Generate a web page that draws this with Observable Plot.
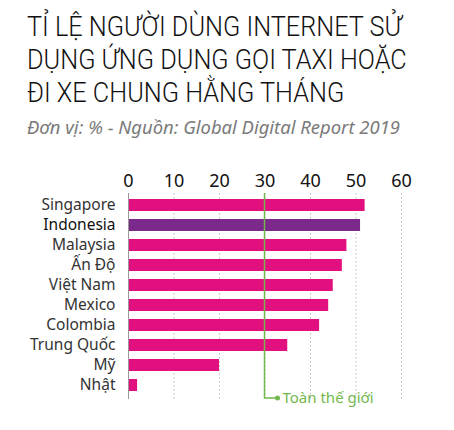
<!DOCTYPE html>
<html>
<head>
<meta charset="utf-8">
<script src="https://cdn.jsdelivr.net/npm/d3@7"></script>
<script src="https://cdn.jsdelivr.net/npm/@observablehq/plot@0.6"></script>
<style>
  html, body { margin: 0; padding: 0; background: #fff; }
  body { width: 454px; height: 430px; overflow: hidden; position: relative; font-family: "Noto Sans", sans-serif; }
  #title { position: absolute; left: 27px; top: 10px; margin: 0; font-family: Roboto, "Noto Sans", sans-serif; font-weight: 300; font-size: 28px; line-height: 33px; color: #111; white-space: nowrap; transform-origin: 0 0; }
  #subtitle { position: absolute; left: 27px; top: 116px; margin: 0; font-style: italic; font-size: 18px; line-height: 22px; color: #7a7a7a; white-space: nowrap; transform-origin: 0 0; }
  #chart { position: absolute; left: 0; top: 150px; }
</style>
</head>
<body>
<h1 id="title">TỈ LỆ NGƯỜI DÙNG INTERNET SỬ<br>DỤNG ỨNG DỤNG GỌI TAXI HOẶC<br>ĐI XE CHUNG HẰNG THÁNG</h1>
<div id="subtitle">Đơn vị: % - Nguồn: Global Digital Report 2019</div>
<div id="chart"></div>
<script>
const countries = ["Singapore", "Indonesia", "Malaysia", "Ấn Độ", "Việt Nam", "Mexico", "Colombia", "Trung Quốc", "Mỹ", "Nhật"];
const values = [52, 51, 48, 47, 45, 44, 42, 35, 20, 2];
const highlight = "Indonesia";
const worldValue = 30;
const worldLabel = "Toàn thế giới";
const xTicks = [0, 10, 20, 30, 40, 50, 60];

// fit title / subtitle widths horizontally to the reference layout
function fitWidth(el, target) {
  const w = el.scrollWidth;
  if (w > 0) el.style.transform = `scaleX(${target / w})`;
}
fitWidth(document.getElementById("title"), 380);
fitWidth(document.getElementById("subtitle"), 373);

const data = countries.map((c, i) => ({country: c, value: values[i]}));
const pink = "#e2107e";
const purple = "#7b2a8c";
const green = "#72b84e";

const hook = (index, scales, values, dimensions) => {
  const g = d3.create("svg:g");
  const x0 = scales.x(worldValue);
  const yb = dimensions.height - dimensions.marginBottom - 1;
  g.append("path")
    .attr("d", `M${x0},${dimensions.marginTop}V${yb}H${x0 + 13}`)
    .attr("fill", "none").attr("stroke", green).attr("stroke-width", 1.5);
  g.append("circle").attr("cx", x0 + 13).attr("cy", yb).attr("r", 2.5).attr("fill", green);
  g.append("text").attr("x", x0 + 18).attr("y", yb).attr("dy", "0.35em")
    .attr("text-anchor", "start")
    .attr("fill", green).attr("font-size", 15).text(worldLabel);
  return g.node();
};

const chart = Plot.plot({
  width: 454,
  height: 270,
  marginLeft: 128,
  marginRight: 53,
  marginTop: 43,
  marginBottom: 21,
  style: {fontFamily: "Noto Sans, sans-serif", background: "#fff", overflow: "visible"},
  x: {domain: [0, 60], ticks: xTicks, axis: null},
  y: {domain: countries, padding: 0.42, paddingOuter: 0, range: [45, 244], axis: null},
  marks: [
    Plot.ruleX(xTicks.filter(t => t > 0), {stroke: "#bbb", strokeDasharray: "1.5,2.5", strokeWidth: 1}),
    Plot.barX(data, {y: "country", x: "value", fill: d => d.country === highlight ? purple : pink}),
    Plot.ruleX([0], {stroke: "#999", strokeWidth: 1}),
    Plot.text(xTicks, {x: d => d, frameAnchor: "top", dy: -19, text: d => String(d), fontSize: 18, fill: "#111"}),
    Plot.text(data, {y: "country", text: "country", frameAnchor: "left", textAnchor: "end", dx: -13,
      fontSize: 15.5, fill: d => d.country === highlight ? "#111" : "#333",
      fontWeight: d => d.country === highlight ? "bold" : "normal"}),
    hook
  ]
});
document.getElementById("chart").append(chart);
</script>
</body>
</html>
